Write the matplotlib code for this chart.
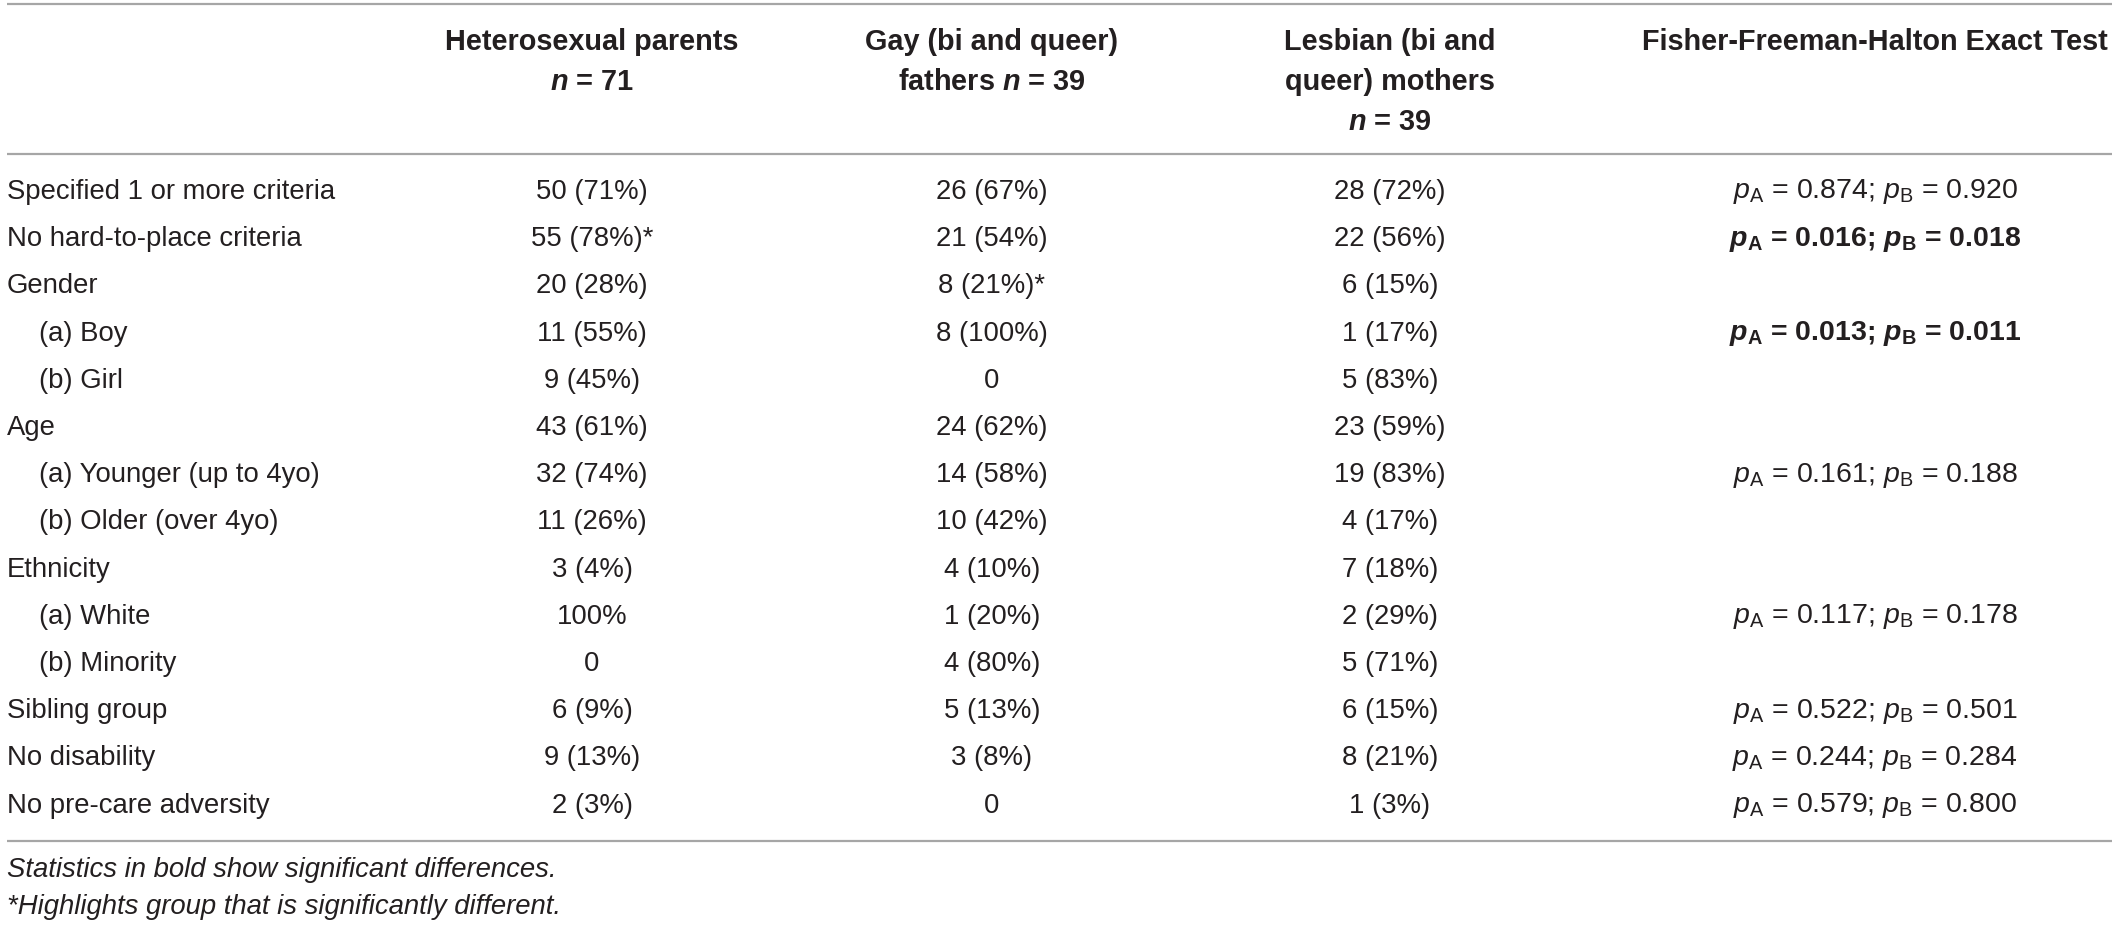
import matplotlib
matplotlib.use('Agg')
import matplotlib.pyplot as plt

# 数据
row_labels = ['Specified 1 or more criteria', 'No hard-to-place criteria', 'Gender',
              '(a) Boy', '(b) Girl', 'Age', '(a) Younger (up to 4yo)', '(b) Older (over 4yo)',
              'Ethnicity', '(a) White', '(b) Minority', 'Sibling group', 'No disability',
              'No pre-care adversity']
row_indent = [0, 0, 0, 1, 1, 0, 1, 1, 0, 1, 1, 0, 0, 0]

hetero = ['50 (71%)', '55 (78%)*', '20 (28%)', '11 (55%)', '9 (45%)', '43 (61%)', '32 (74%)',
          '11 (26%)', '3 (4%)', '100%', '0', '6 (9%)', '9 (13%)', '2 (3%)']
gay = ['26 (67%)', '21 (54%)', '8 (21%)*', '8 (100%)', '0', '24 (62%)', '14 (58%)',
       '10 (42%)', '4 (10%)', '1 (20%)', '4 (80%)', '5 (13%)', '3 (8%)', '0']
lesbian = ['28 (72%)', '22 (56%)', '6 (15%)', '1 (17%)', '5 (83%)', '23 (59%)', '19 (83%)',
           '4 (17%)', '7 (18%)', '2 (29%)', '5 (71%)', '6 (15%)', '8 (21%)', '1 (3%)']

# Fisher-Freeman-Halton 检验: (行号, pA, pB, 是否显著)
p_rows = [0, 1, 3, 6, 9, 11, 12, 13]
p_a = ['0.874', '0.016', '0.013', '0.161', '0.117', '0.522', '0.244', '0.579']
p_b = ['0.920', '0.018', '0.011', '0.188', '0.178', '0.501', '0.284', '0.800']
p_bold = [False, True, True, False, False, False, False, False]

headers = [['Heterosexual parents', r'$\mathbfit{n}$ = 71'],
           ['Gay (bi and queer)', r'fathers $\mathbfit{n}$ = 39'],
           ['Lesbian (bi and', 'queer) mothers', r'$\mathbfit{n}$ = 39'],
           ['Fisher-Freeman-Halton Exact Test']]

notes = ['Statistics in bold show significant differences.',
         '*Highlights group that is significantly different.']

# 样式
FONT = 'Liberation Sans'
plt.rcParams['font.family'] = [FONT, 'DejaVu Sans']
plt.rcParams['mathtext.fontset'] = 'custom'
plt.rcParams['mathtext.rm'] = FONT
plt.rcParams['mathtext.it'] = FONT + ':italic'
plt.rcParams['mathtext.bf'] = FONT + ':bold'
plt.rcParams['mathtext.bfit'] = FONT + ':bold:italic'

W, H = 2118, 928
TXT = '#231f20'
LINE = '#a6a6a6'
fs_body = 19.8
fs_head = 20.8
fs_p = 20.5

col_x = [592, 992, 1390, 1875]
label_x = 7
indent_x = 39
row_y0, row_dy = 192, 47.2
head_y0, head_dy = 42, 40

fig = plt.figure(figsize=(W / 100, H / 100), dpi=100)
ax = fig.add_axes([0, 0, 1, 1])
ax.set_xlim(0, W)
ax.set_ylim(H, 0)
ax.axis('off')

# 横线
for y in [5, 155, 842]:
    ax.plot([7, 2112], [y, y], color=LINE, lw=1.6, solid_capstyle='butt')

# 表头
for x, lines in zip(col_x, headers):
    for i, s in enumerate(lines):
        ax.text(x, head_y0 + i * head_dy, s, ha='center', va='center',
                fontsize=fs_head, fontweight='bold', color=TXT)

# 表体
for i, lab in enumerate(row_labels):
    y = row_y0 + i * row_dy
    x0 = indent_x if row_indent[i] else label_x
    ax.text(x0, y, lab, ha='left', va='center', fontsize=fs_body, color=TXT)
    for x, col in zip(col_x[:3], [hetero, gay, lesbian]):
        ax.text(x, y, col[i], ha='center', va='center', fontsize=fs_body, color=TXT)

for r, a, b, bold in zip(p_rows, p_a, p_b, p_bold):
    y = row_y0 + r * row_dy
    if bold:
        s = r'$\mathbfit{p}_\mathbf{A}$ = ' + a + r'; $\mathbfit{p}_\mathbf{B}$ = ' + b
        w = 'bold'
    else:
        s = r'$\mathit{p}_\mathrm{A}$ = ' + a + r'; $\mathit{p}_\mathrm{B}$ = ' + b
        w = 'normal'
    ax.text(col_x[3], y, s, ha='center', va='center', fontsize=fs_p, fontweight=w, color=TXT)

# 脚注
for i, s in enumerate(notes):
    ax.text(label_x, 870 + i * 37, s, ha='left', va='center', fontsize=fs_body,
            style='italic', color=TXT)

fig.savefig('out.png', dpi=100)
